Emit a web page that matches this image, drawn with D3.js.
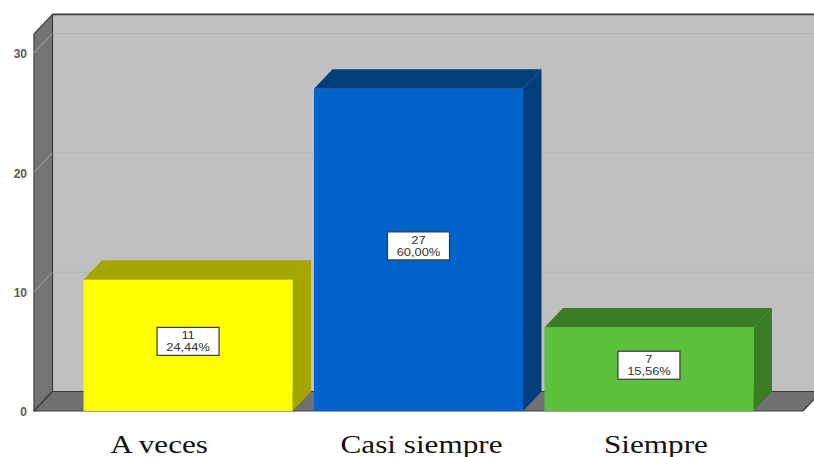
<!DOCTYPE html>
<html>
<head>
<meta charset="utf-8">
<script src="https://cdn.jsdelivr.net/npm/d3@7/dist/d3.min.js"></script>
<style>
  html, body { margin: 0; padding: 0; background: #fff; }
  svg { display: block; }
</style>
</head>
<body>
<svg id="chart" width="814" height="457"></svg>
<script>
// Frequency of answers
const categories = ["A veces", "Casi siempre", "Siempre"];
const counts = [11, 27, 7];
const yTicks = [0, 10, 20, 30];
const frontColors = ["#ffff00", "#0063cc", "#5bc03a"];
const depthColors = ["#a6a600", "#003e7c", "#3a7d24"];

const total = d3.sum(counts);
const svg = d3.select("#chart");

// Layout of the 3D box
const dx = 18.5, dy = -19.5;          // depth offset of the back plane
const yMax = 31.6;                    // top of the walls, in axis units
const y = d3.scaleLinear().domain([0, 30]).range([411, 53]);
const x = d3.scaleBand().domain(categories).range([34, 803])
  .paddingInner(0.093).paddingOuter(0.215);
const bw = x.bandwidth();
const x0 = 34, x1 = 803, xBackEnd = 840;

const poly = pts => pts.map(p => p.join(",")).join(" ");

// Back wall
svg.append("rect")
  .attr("x", x0 + dx).attr("y", y(yMax) + dy)
  .attr("width", xBackEnd - (x0 + dx)).attr("height", y(0) - y(yMax))
  .attr("fill", "#c0c0c0");
svg.append("line")
  .attr("x1", x0 + dx).attr("x2", xBackEnd)
  .attr("y1", y(yMax) + dy).attr("y2", y(yMax) + dy)
  .attr("stroke", "#3c3c3c").attr("stroke-width", 1.6);

// Grid lines on the back wall
svg.selectAll(".grid-back").data(yTicks.filter(t => t > 0)).enter().append("line")
  .attr("x1", x0 + dx).attr("x2", xBackEnd)
  .attr("y1", d => y(d) + dy).attr("y2", d => y(d) + dy)
  .attr("stroke", "#b2b2b2").attr("stroke-width", 1);

// Left wall
svg.append("polygon")
  .attr("points", poly([[x0, y(0)], [x0, y(yMax)], [x0 + dx, y(yMax) + dy], [x0 + dx, y(0) + dy]]))
  .attr("fill", "#747474").attr("stroke", "#3c3c3c").attr("stroke-width", 1.2)
  .attr("stroke-linejoin", "round");
svg.selectAll(".grid-left").data(yTicks.filter(t => t > 0)).enter().append("line")
  .attr("x1", x0).attr("x2", x0 + dx)
  .attr("y1", d => y(d)).attr("y2", d => y(d) + dy)
  .attr("stroke", "#a8a8a8").attr("stroke-width", 1);

// Floor
svg.append("polygon")
  .attr("points", poly([[x0, y(0)], [x1, y(0)], [x1 + dx, y(0) + dy], [x0 + dx, y(0) + dy]]))
  .attr("fill", "#717171").attr("stroke", "#3c3c3c").attr("stroke-width", 1.2)
  .attr("stroke-linejoin", "round");

// Bars: side, top, front
const bars = svg.selectAll(".bar").data(categories).enter().append("g");
bars.append("polygon")
  .attr("points", (c, i) => {
    const xl = x(c) + bw, yt = y(counts[i]);
    return poly([[xl, yt], [xl + dx, yt + dy], [xl + dx, y(0) + dy], [xl, y(0)]]);
  })
  .attr("fill", (c, i) => depthColors[i]);
bars.append("polygon")
  .attr("points", (c, i) => {
    const xl = x(c), yt = y(counts[i]);
    return poly([[xl, yt], [xl + dx, yt + dy], [xl + bw + dx, yt + dy], [xl + bw, yt]]);
  })
  .attr("fill", (c, i) => depthColors[i]);
bars.append("rect")
  .attr("x", c => x(c)).attr("y", (c, i) => y(counts[i]))
  .attr("width", bw).attr("height", (c, i) => y(0) - y(counts[i]))
  .attr("fill", (c, i) => frontColors[i]);

// Value labels: count and percentage
const fmtPct = v => (v * 100 / total).toFixed(2).replace(".", ",") + "%";
const labels = bars.append("g")
  .attr("transform", (c, i) =>
    `translate(${x(c) + bw / 2},${(y(0) + y(counts[i])) / 2 - 4})`);
labels.append("rect")
  .attr("x", -31).attr("y", -14).attr("width", 62).attr("height", 28)
  .attr("fill", "#ffffff").attr("stroke", "#3a3a3a").attr("stroke-width", 1.2);
const lt = labels.append("text")
  .attr("text-anchor", "middle")
  .attr("font-family", "Liberation Sans, Arial, sans-serif")
  .attr("font-size", 11.5).attr("fill", "#333")
  .attr("transform", "scale(1.12,1)");
lt.append("tspan").attr("x", 0).attr("y", -2).text((c, i) => counts[i]);
lt.append("tspan").attr("x", 0).attr("y", 10).text((c, i) => fmtPct(counts[i]));

// Y axis tick labels
const yAxis = d3.axisLeft(y).tickValues(yTicks).tickSize(0).tickPadding(7);
const ya = svg.append("g").attr("transform", `translate(${x0},0)`).call(yAxis);
ya.select(".domain").remove();
ya.selectAll("text")
  .attr("font-family", "Liberation Sans, Arial, sans-serif")
  .attr("font-size", 12).attr("font-weight", "bold").attr("fill", "#5a5a5a")
  .attr("dy", "0.4em");

// Category labels under the floor
const labelShift = [-29, 3, 7];
svg.selectAll(".cat").data(categories).enter().append("text")
  .attr("transform", (c, i) => `translate(${x(c) + bw / 2 + labelShift[i]},453) scale(1.2,1)`)
  .attr("text-anchor", "middle")
  .attr("font-family", "Liberation Serif, Times New Roman, serif")
  .attr("font-size", 26).attr("fill", "#111")
  .text(c => c);
</script>
</body>
</html>
